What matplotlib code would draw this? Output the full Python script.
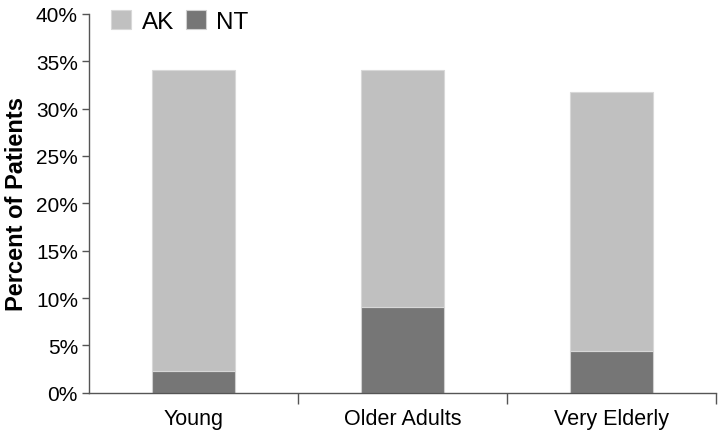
import matplotlib.pyplot as plt
import numpy as np
from matplotlib.ticker import FuncFormatter, FixedLocator

plt.rcParams['font.family'] = ['Liberation Sans', 'DejaVu Sans']

# donnees (pourcentages)
groupes = ['Young', 'Older Adults', 'Very Elderly']
total = [34.1, 34.1, 31.8]
nt = [2.3, 9.1, 4.4]
ak = [t - n for t, n in zip(total, nt)]

fig = plt.figure(figsize=(7.18, 4.39), dpi=100)
ax = fig.add_axes([0.124, 0.103, 0.873, 0.863])

x = np.arange(len(groupes))
ax.bar(x, nt, width=0.4, color='#767676', edgecolor='#d0d0d0', linewidth=0.8, label='NT')
ax.bar(x, ak, width=0.4, bottom=nt, color='#c0c0c0', edgecolor='#d8d8d8', linewidth=0.8, label='AK')

ax.set_xlim(-0.5, 2.5)
ax.set_ylim(0, 40)
ax.set_yticks(np.arange(0, 41, 5))
ax.yaxis.set_major_formatter(FuncFormatter(lambda v, p: f'{v:.0f}%'))
ax.tick_params(axis='y', labelsize=15, length=5, width=1, color='#555555', pad=3)

# ticks aux frontieres, etiquettes au centre
ax.xaxis.set_major_locator(FixedLocator([0.5, 1.5, 2.5]))
ax.xaxis.set_major_formatter(FuncFormatter(lambda v, p: ''))
ax.xaxis.set_minor_locator(FixedLocator(x))
ax.set_xticklabels(groupes, minor=True)
ax.tick_params(axis='x', which='major', length=8, width=1, color='#555555')
ax.tick_params(axis='x', which='minor', length=0, labelsize=15.5, pad=11)

for s in ['top', 'right']:
    ax.spines[s].set_visible(False)
for s in ['left', 'bottom']:
    ax.spines[s].set_color('#555555')
    ax.spines[s].set_linewidth(1)

ax.set_ylabel('Percent of Patients', fontsize=17, fontweight='bold', labelpad=6)

h, l = ax.get_legend_handles_labels()
ax.legend(h[::-1], l[::-1], loc='upper left', bbox_to_anchor=(0.02, 1.035), ncol=2,
          frameon=False, fontsize=17.5, handlelength=0.8, handleheight=0.8,
          handletextpad=0.45, columnspacing=0.5, borderaxespad=0)

fig.savefig('out.png', dpi=100)
